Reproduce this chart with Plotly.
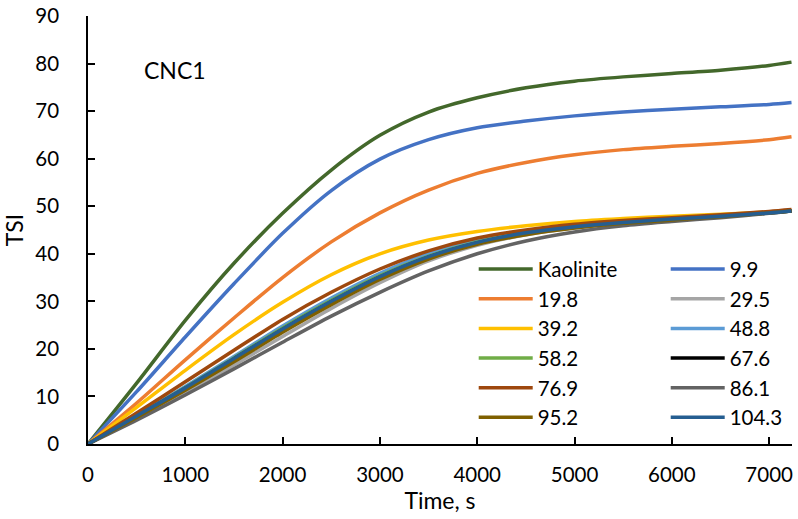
import plotly.graph_objects as go

time_s = [0, 500, 1000, 1500, 2000, 2500, 3000, 3500, 4000, 4500, 5000, 5500, 6000, 6500, 7000, 7230]

series_names = ["Kaolinite", "9.9", "19.8", "29.5", "39.2", "48.8",
                "58.2", "67.6", "76.9", "86.1", "95.2", "104.3"]

kaolinite = [0, 12.8, 26.0, 38.0, 48.5, 57.6, 64.9, 69.8, 72.8, 74.9, 76.3, 77.2, 77.9, 78.6, 79.6, 80.3]
s_9_9 = [0, 11.0, 22.5, 33.7, 44.3, 53.3, 59.9, 64.0, 66.5, 67.9, 69.0, 69.8, 70.4, 70.9, 71.4, 71.8]
s_19_8 = [0, 8.6, 17.7, 26.5, 35.0, 42.5, 48.6, 53.4, 56.9, 59.2, 60.8, 61.9, 62.6, 63.2, 64.0, 64.6]
s_29_5 = [0, 5.3, 10.8, 16.6, 22.6, 28.5, 33.9, 38.5, 41.8, 44.0, 45.4, 46.4, 47.1, 47.8, 48.6, 49.0]
s_39_2 = [0, 7.7, 15.5, 23.0, 29.8, 35.6, 40.0, 42.9, 44.7, 45.9, 46.8, 47.4, 47.9, 48.3, 48.8, 49.1]
s_48_8 = [0, 6.0, 12.1, 18.4, 24.8, 30.7, 35.9, 40.0, 42.8, 44.6, 45.8, 46.7, 47.3, 47.9, 48.6, 49.0]
s_58_2 = [0, 5.9, 11.9, 18.1, 24.4, 30.2, 35.4, 39.5, 42.5, 44.4, 45.7, 46.6, 47.3, 47.9, 48.6, 49.0]
s_67_6 = [0, 5.8, 11.7, 17.9, 24.1, 29.9, 35.1, 39.3, 42.3, 44.3, 45.6, 46.6, 47.3, 47.9, 48.6, 49.0]
s_76_9 = [0, 6.5, 13.1, 19.7, 26.2, 31.9, 36.8, 40.6, 43.3, 45.0, 46.2, 47.0, 47.6, 48.2, 48.9, 49.3]
s_86_1 = [0, 5.0, 10.3, 15.8, 21.4, 26.9, 31.9, 36.4, 40.0, 42.7, 44.6, 45.9, 46.8, 47.6, 48.5, 49.0]
s_95_2 = [0, 5.6, 11.3, 17.3, 23.5, 29.3, 34.6, 38.9, 42.0, 44.0, 45.4, 46.4, 47.1, 47.8, 48.6, 49.0]
s_104_3 = [0, 5.9, 11.8, 18.0, 24.2, 30.0, 35.2, 39.4, 42.4, 44.4, 45.7, 46.6, 47.3, 47.9, 48.6, 49.0]

series_values = [kaolinite, s_9_9, s_19_8, s_29_5, s_39_2, s_48_8,
                 s_58_2, s_67_6, s_76_9, s_86_1, s_95_2, s_104_3]

colors = ["#43682B", "#4472C4", "#ED7D31", "#A5A5A5", "#FFC000", "#5B9BD5",
          "#70AD47", "#000000", "#9E480E", "#636363", "#7F6000", "#255E91"]

x_ticks = [0, 1000, 2000, 3000, 4000, 5000, 6000, 7000]
y_ticks = [0, 10, 20, 30, 40, 50, 60, 70, 80, 90]

FONT = "Lato, 'Open Sans', sans-serif"

fig = go.Figure()
for i, (name, vals, col) in enumerate(zip(series_names, series_values, colors)):
    second_col = (i % 2 == 1)
    fig.add_trace(go.Scatter(
        x=time_s, y=vals, name=name, mode="lines",
        line=dict(color=col, width=3.5, shape="spline", smoothing=0.8),
        legendwidth=58 if second_col else 123,
    ))

fig.add_annotation(x=(141.7 - 88) / 704, xref="paper", y=78.6, yref="y", text="CNC1",
                   showarrow=False, xanchor="left", yanchor="middle",
                   font=dict(family=FONT, size=23, color="#000"))

fig.update_layout(
    width=798, height=519,
    margin=dict(l=88, r=6, t=16, b=75, autoexpand=False),
    paper_bgcolor="white", plot_bgcolor="white",
    font=dict(family=FONT, size=20.5, color="#000"),
    showlegend=True,
    legend=dict(orientation="h", x=1.001, xanchor="right", y=0.455, yanchor="top",
                bgcolor="rgba(0,0,0,0)", font=dict(family=FONT, size=20.5, color="#000"),
                traceorder="normal", entrywidthmode="pixels", itemwidth=54),
    xaxis=dict(range=[0, 7235], tickvals=x_ticks, ticktext=[str(v) for v in x_ticks],
               showgrid=False, zeroline=False, showline=True, linecolor="#000", linewidth=1.5,
               ticks="inside", ticklen=7, tickcolor="#000", tickwidth=1.5,
               ticklabelstandoff=12, tickfont=dict(family=FONT, size=20.5),
               title=dict(text="Time, s", standoff=2, font=dict(family=FONT, size=23))),
    yaxis=dict(range=[0, 90], tickvals=y_ticks, ticktext=[str(v) for v in y_ticks],
               showgrid=False, zeroline=False, showline=True, linecolor="#000", linewidth=1.5,
               ticks="inside", ticklen=7, tickcolor="#000", tickwidth=1.5,
               ticklabelstandoff=23, tickfont=dict(family=FONT, size=20.5),
               ticklabeloverflow="allow",
               title=dict(text="TSI", standoff=10, font=dict(family=FONT, size=23))),
)

# remove the browser's default 8px body margin so the 798x519 figure fills the window exactly
fig.write_html("out.html", config={"displayModeBar": False},
               post_script="document.body.style.margin='0px';")
